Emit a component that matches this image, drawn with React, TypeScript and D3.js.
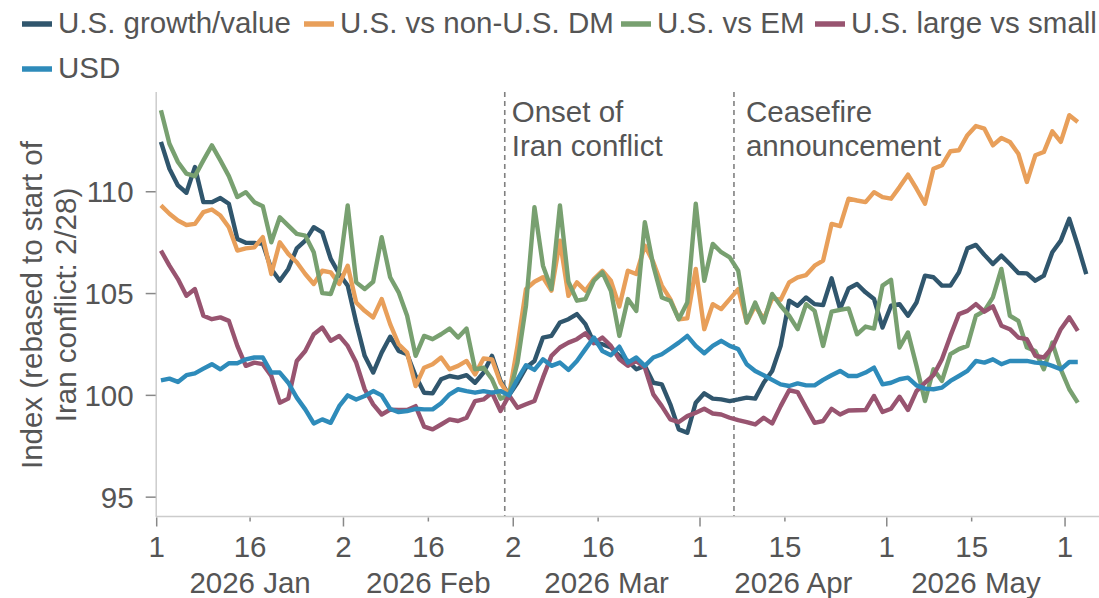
import React, { useEffect, useRef } from "react";
import * as d3 from "d3";

// Trading-day axis: weekends are collapsed, series start 1 Jan 2026
const START = new Date(2026, 0, 1);
const AXIS_END = new Date(2026, 5, 5);

const growthValue = [
	112.45, 111.13, 110.31, 109.95, 111.21, 109.49, 109.49, 109.69, 109.41, 107.68,
	107.49, 107.49, 107.44, 106.21, 105.63, 106.21, 107.22, 107.6, 108.26, 108.01,
	106.7, 105.96, 105.39, 103.58, 101.94, 101.12, 102.1, 102.88, 102.18, 102.02,
	100.95, 100.13, 100.1, 100.79, 100.95, 100.87, 100.99, 100.62, 101.12, 101.94,
	100.71, 100.0, 100.62, 101.36, 101.69, 102.84, 102.92, 103.58, 103.74, 103.99,
	103.5, 102.59, 102.51, 102.35, 101.94, 101.69, 101.28, 101.45, 100.62, 100.54,
	99.56, 98.33, 98.16, 99.64, 100.1, 99.84, 99.8, 99.72, 99.8, 99.89,
	99.84, 100.62, 101.2, 102.43, 104.65, 104.4, 104.81, 104.48, 104.43, 105.75,
	104.24, 105.25, 105.47, 105.06, 104.73, 103.33, 104.4, 104.48, 103.91, 104.56,
	105.88, 105.8, 105.39, 105.39, 106.04, 107.22, 107.39, 106.9, 106.45, 106.86,
	106.45, 106.01, 105.99, 105.63, 105.88, 107.03, 107.6, 108.67, 107.36, 105.96,
];

const usVsDm = [
	109.33, 108.92, 108.59, 108.37, 108.42, 109.0, 109.13, 108.83, 108.26, 107.11,
	107.22, 107.27, 107.77, 105.96, 107.52, 106.95, 106.54, 105.96, 105.47, 106.12,
	106.04, 105.47, 106.37, 104.56, 104.15, 103.83, 104.73, 103.5, 102.51, 102.1,
	100.46, 101.36, 101.53, 101.86, 101.28, 101.45, 101.69, 101.03, 101.81, 101.77,
	100.62, 100.0, 102.43, 105.22, 105.58, 105.8, 105.14, 107.6, 104.89, 105.55,
	105.14, 105.71, 106.12, 105.63, 104.36, 106.12, 105.96, 107.36, 106.54, 105.39,
	104.73, 103.74, 103.78, 106.21, 103.25, 104.48, 104.24, 104.73, 105.22, 103.58,
	104.4, 103.74, 104.76, 104.7, 105.55, 105.8, 105.91, 106.37, 106.62, 108.42,
	108.31, 109.66, 109.57, 109.49, 109.98, 109.74, 109.66, 110.23, 110.84, 110.15,
	109.41, 111.13, 111.3, 111.99, 112.04, 112.78, 113.23, 113.1, 112.28, 112.64,
	112.45, 111.87, 110.48, 111.79, 111.95, 112.97, 112.45, 113.76, 113.43,
];

const usVsEm = [
	114.0, 112.36, 111.46, 110.89, 110.77, 111.54, 112.28, 111.54, 110.77, 109.74,
	109.98, 109.49, 109.29, 107.52, 108.75, 108.34, 107.93, 107.85, 107.03, 105.02,
	104.98, 106.12, 109.33, 105.55, 105.22, 105.58, 107.77, 105.8, 105.06, 103.91,
	101.94, 102.92, 102.76, 103.0, 103.28, 102.84, 103.28, 101.28, 101.36, 100.79,
	99.84, 100.0, 101.61, 104.4, 109.24, 106.37, 105.22, 109.33, 105.58, 104.65,
	104.73, 105.63, 106.04, 105.14, 102.92, 104.73, 104.15, 108.51, 106.37, 104.81,
	104.65, 103.74, 104.56, 109.41, 105.63, 107.44, 107.03, 106.78, 106.12, 103.58,
	104.56, 103.58, 104.98, 104.4, 103.91, 103.25, 104.48, 104.15, 102.43, 104.11,
	104.2, 104.27, 103.0, 103.38, 103.28, 105.39, 105.68, 102.35, 103.09, 101.45,
	99.72, 101.28, 100.71, 102.02, 102.27, 102.43, 103.91, 104.15, 104.81, 106.21,
	103.91, 103.66, 102.35, 102.18, 101.28, 102.59, 101.28, 100.3, 99.64,
];

const largeVsSmall = [
	107.11, 106.37, 105.71, 104.89, 105.22, 103.91, 103.74, 103.83, 103.66, 102.43,
	101.45, 101.61, 101.53, 100.95, 99.64, 99.84, 101.69, 102.18, 103.0, 103.33,
	102.68, 102.92, 102.43, 101.61, 100.3, 99.56, 99.06, 99.3, 99.28, 99.28,
	99.47, 98.46, 98.33, 98.57, 98.82, 98.74, 98.9, 99.72, 99.8, 100.13,
	99.23, 100.0, 99.39, 99.56, 99.72, 100.87, 101.94, 102.35, 102.59, 102.76,
	103.05, 102.56, 102.84, 102.43, 101.77, 101.45, 101.69, 101.36, 100.05, 99.47,
	98.82, 98.69, 98.98, 99.15, 99.34, 99.11, 99.06, 98.9, 98.78, 98.69,
	98.57, 98.9, 98.62, 99.47, 100.25, 100.16, 99.39, 98.65, 98.74, 99.34,
	99.06, 99.26, 99.27, 99.28, 99.97, 99.18, 99.34, 99.93, 99.28, 100.21,
	100.62, 100.99, 101.77, 102.92, 103.99, 104.15, 104.48, 104.11, 104.37, 103.42,
	103.25, 102.84, 102.76, 101.94, 101.86, 102.35, 103.25, 103.83, 103.17,
];

const usd = [
	100.74, 100.82, 100.66, 100.99, 101.08, 101.31, 101.53, 101.28, 101.58, 101.58,
	101.77, 101.86, 101.86, 101.12, 101.12, 100.62, 99.89, 99.31, 98.62, 98.82,
	98.65, 99.47, 100.0, 99.8, 99.97, 100.21, 100.0, 99.33, 99.18, 99.23,
	99.34, 99.31, 99.31, 99.61, 100.05, 100.3, 100.21, 100.13, 100.21, 100.13,
	100.21, 100.0, 100.79, 101.48, 101.25, 101.77, 101.45, 101.61, 101.25, 101.69,
	102.27, 102.84, 102.18, 101.97, 102.39, 101.61, 101.86, 101.45, 101.86, 102.02,
	102.3, 102.59, 102.92, 102.43, 102.07, 102.43, 102.68, 102.43, 102.27, 101.53,
	101.2, 100.99, 100.76, 100.54, 100.46, 100.59, 100.49, 100.49, 100.76, 100.99,
	101.2, 100.95, 100.95, 101.12, 101.36, 100.54, 100.62, 100.79, 100.87, 100.49,
	100.33, 100.3, 100.38, 100.71, 100.95, 101.2, 101.69, 101.61, 101.77, 101.53,
	101.69, 101.69, 101.69, 101.61, 101.58, 101.45, 101.28, 101.64, 101.64,
];

const seriesNames = [
	"U.S. growth/value",
	"U.S. vs non-U.S. DM",
	"U.S. vs EM",
	"U.S. large vs small",
	"USD",
];
const seriesValues = [growthValue, usVsDm, usVsEm, largeVsSmall, usd];
const seriesColors = ["#30566d", "#e89f5a", "#78a070", "#985470", "#2e8bba"];

const yTicks = [95, 100, 105, 110];

const tickDates = [
	new Date(2026, 0, 1),
	new Date(2026, 0, 16),
	new Date(2026, 1, 2),
	new Date(2026, 1, 16),
	new Date(2026, 2, 2),
	new Date(2026, 2, 16),
	new Date(2026, 3, 1),
	new Date(2026, 3, 15),
	new Date(2026, 4, 1),
	new Date(2026, 4, 15),
	new Date(2026, 5, 1),
];
const monthLabels = ["2026 Jan", "2026 Feb", "2026 Mar", "2026 Apr", "2026 May"];

const events = [
	{ date: new Date(2026, 1, 27), lines: ["Onset of", "Iran conflict"], dx: 7 },
	{ date: new Date(2026, 3, 7), lines: ["Ceasefire", "announcement"], dx: 12 },
];

const isWeekday = (d: Date) => d.getDay() !== 0 && d.getDay() !== 6;
const bizIndex = (d: Date) =>
	d3.timeDay.range(START, d).filter(isWeekday).length;

const FONT = "'Liberation Sans', Arial, Helvetica, sans-serif";
const FONT_SIZE = 29.5;
const TEXT = "#555555";

const W = 1099;
const H = 598;

const App: React.FC = () => {
	const svgRef = useRef<SVGSVGElement | null>(null);

	useEffect(() => {
		document.body.style.margin = "0";
		const svgElement = svgRef.current;
		if (!svgElement) return;

		const svg = d3.select(svgElement);
		svg.selectAll("*").remove();

		const plot = { left: 156.7, right: 1099, top: 92, bottom: 516.5 };

		const xScale = d3
			.scaleLinear()
			.domain([0, bizIndex(AXIS_END)])
			.range([plot.left, plot.right]);

		const yScale = d3
			.scaleLinear()
			.domain([94.05, 114.9])
			.range([plot.bottom, plot.top]);

		const addText = (x: number, y: number, t: string | number, anchor = "start") =>
			svg
				.append("text")
				.attr("x", x)
				.attr("y", y)
				.attr("text-anchor", anchor)
				.attr("font-family", FONT)
				.attr("font-size", FONT_SIZE)
				.attr("fill", TEXT)
				.text(t);

		// Event markers (under the lines)
		events.forEach((ev) => {
			const x = xScale(bizIndex(ev.date));
			svg
				.append("line")
				.attr("x1", x)
				.attr("x2", x)
				.attr("y1", plot.top)
				.attr("y2", plot.bottom)
				.attr("stroke", "#808080")
				.attr("stroke-width", 1.6)
				.attr("stroke-dasharray", "5,4");

			ev.lines.forEach((t, i) => addText(x + ev.dx, 122 + i * 34, t));
		});

		// Axes
		svg
			.append("line")
			.attr("x1", plot.left - 0.5)
			.attr("x2", plot.left - 0.5)
			.attr("y1", plot.top)
			.attr("y2", plot.bottom)
			.attr("stroke", "#cccccc")
			.attr("stroke-width", 1.5);

		svg
			.append("line")
			.attr("x1", plot.left - 1)
			.attr("x2", plot.right)
			.attr("y1", plot.bottom)
			.attr("y2", plot.bottom)
			.attr("stroke", "#cccccc")
			.attr("stroke-width", 1.5);

		yTicks.forEach((v) => {
			const y = yScale(v);
			svg
				.append("line")
				.attr("x1", plot.left - 11)
				.attr("x2", plot.left - 1)
				.attr("y1", y)
				.attr("y2", y)
				.attr("stroke", "#888888")
				.attr("stroke-width", 1.5);
			addText(plot.left - 23, y + 10.5, v, "end");
		});

		const majorIdx = new Set([0, 2, 4, 6, 8, 10]);
		tickDates.forEach((d, i) => {
			const x = xScale(bizIndex(d));
			const major = majorIdx.has(i);
			svg
				.append("line")
				.attr("x1", x)
				.attr("x2", x)
				.attr("y1", plot.bottom + 1)
				.attr("y2", plot.bottom + (major ? 10 : 5))
				.attr("stroke", "#888888")
				.attr("stroke-width", 1.5);
			addText(x, 557, d.getDate(), "middle");
		});

		const monthStarts = tickDates.filter((_, i) => majorIdx.has(i));
		monthLabels.forEach((label, i) => {
			const x =
				(xScale(bizIndex(monthStarts[i])) + xScale(bizIndex(monthStarts[i + 1]))) / 2;
			addText(x, 593, label, "middle");
		});

		// Y axis title
		const title = svg
			.append("text")
			.attr("transform", `translate(0,305) rotate(-90)`)
			.attr("text-anchor", "middle")
			.attr("font-family", FONT)
			.attr("font-size", FONT_SIZE)
			.attr("fill", TEXT);
		title.append("tspan").attr("x", 0).attr("y", 41.5).text("Index (rebased to start of");
		title.append("tspan").attr("x", 0).attr("y", 75.5).text("Iran conflict: 2/28)");

		// Series
		const tradingDays = d3.timeDay
			.range(START, d3.timeDay.offset(AXIS_END, 1))
			.filter(isWeekday);

		const line = d3
			.line<number>()
			.x((_, i) => xScale(bizIndex(tradingDays[i]) + 0.5))
			.y((v) => yScale(v))
			.curve(d3.curveLinear);

		seriesValues.forEach((values, s) => {
			svg
				.append("path")
				.datum(values)
				.attr("fill", "none")
				.attr("stroke", seriesColors[s])
				.attr("stroke-width", 4.4)
				.attr("stroke-linejoin", "round")
				.attr("d", line);
		});

		// Legend
		const legendPos = [
			[22, 23],
			[304, 23],
			[621, 23],
			[815, 23],
			[22, 68],
		];
		seriesNames.forEach((name, s) => {
			const [lx, ly] = legendPos[s];
			svg
				.append("line")
				.attr("x1", lx)
				.attr("x2", lx + 30)
				.attr("y1", ly + 1)
				.attr("y2", ly + 1)
				.attr("stroke", seriesColors[s])
				.attr("stroke-width", 5.5);
			addText(lx + 36, ly + 10, name);
		});
	}, []);

	return (
		<svg
			ref={svgRef}
			width={W}
			height={H}
			style={{ display: "block", background: "#ffffff" }}
		/>
	);
};

export default App;
